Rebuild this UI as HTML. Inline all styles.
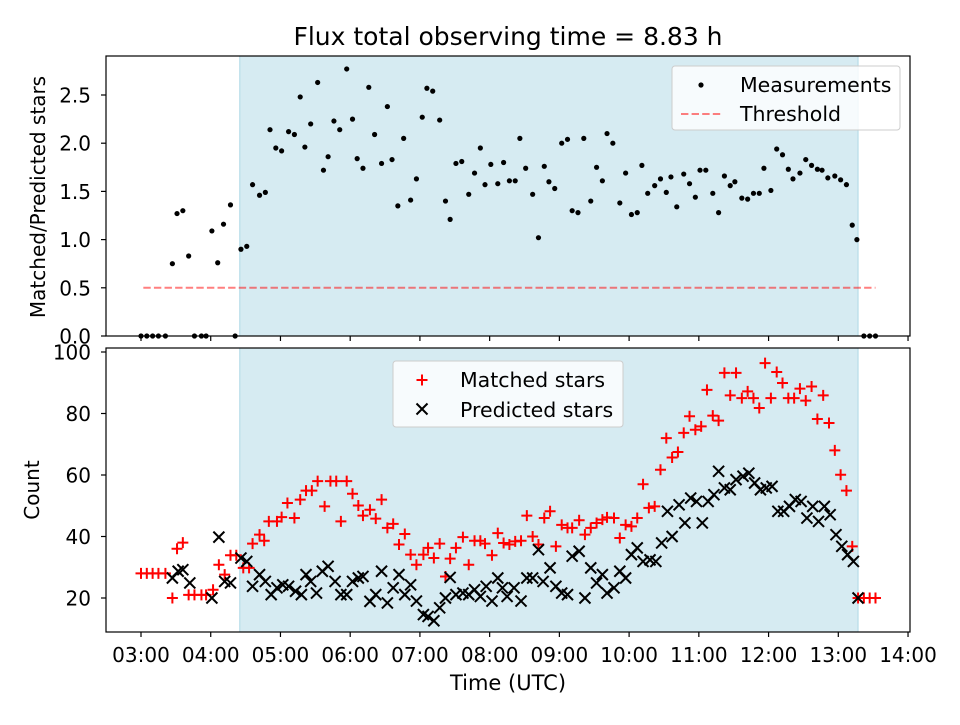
<!DOCTYPE html>
<html><head><meta charset="utf-8"><style>
body{margin:0;background:#fff;}
svg text{font-family:"DejaVu Sans","Liberation Sans",sans-serif;fill:#000;}
</style></head><body>
<svg id="chart" width="960" height="720" xmlns="http://www.w3.org/2000/svg"></svg>
<script>
const ratioTimes=[0,5,10,15,21,27,31,36,41,46,52,56,61,66,71,77,81,86,91,96,102,107,111,116,121,127,132,137,141,146,152,157,161,166,171,177,182,186,191,196,201,207,212,216,221,226,232,237,242,246,251,257,262,266,271,276,282,287,292,296,301,307,312,317,322,326,331,337,342,347,351,356,362,367,371,376,381,387,392,397,401,406,412,417,422,427,431,436,442,447,452,456,461,467,472,477,481,486,492,497,502,507,511,517,522,527,532,536,542,547,552,557,561,567,572,577,582,586,591,597,602,607,612,616,622,627,632];
const ratioValues=[0,0,0,0,0,0.75,1.27,1.30,0.83,0,0,0,1.09,0.76,1.16,1.36,0,0.90,0.93,1.57,1.46,1.49,2.14,1.95,1.92,2.12,2.09,2.48,1.96,2.20,2.63,1.72,1.86,2.23,2.14,2.77,2.25,1.84,1.74,2.58,2.09,1.79,2.38,1.83,1.35,2.05,1.41,1.63,2.27,2.57,2.54,2.24,1.40,1.21,1.79,1.81,1.47,1.69,1.95,1.57,1.78,1.58,1.80,1.61,1.61,2.05,1.74,1.47,1.02,1.76,1.60,1.53,2.00,2.04,1.30,1.28,2.05,1.40,1.75,1.61,2.10,2.00,1.38,1.69,1.26,1.28,1.77,1.48,1.56,1.63,1.49,1.65,1.34,1.68,1.58,1.44,1.72,1.72,1.48,1.28,1.66,1.56,1.60,1.43,1.42,1.48,1.48,1.74,1.51,1.94,1.88,1.73,1.63,1.69,1.83,1.77,1.73,1.72,1.64,1.66,1.62,1.57,1.15,1.00,0,0,0];
const matchedTimes=[0,5,10,15,21,27,31,36,41,46,52,56,62,67,72,77,82,88,93,96,102,106,110,117,121,126,132,137,142,147,152,158,163,168,172,177,182,187,191,197,202,207,212,217,222,227,232,237,243,247,252,257,262,266,271,277,282,287,292,296,302,307,312,317,322,327,332,337,342,347,352,357,362,367,371,377,382,387,392,397,401,407,412,417,422,427,432,437,442,447,452,457,462,467,472,477,482,487,492,497,502,507,512,517,522,527,532,537,542,547,552,557,562,567,572,577,582,587,592,597,602,607,612,617,622,627,632];
const matchedValues=[28,28,28,28,28,20,36,38,21,21,21,21,22.7,30.8,27.6,33.9,33.9,29.8,29.8,37.7,40.6,38.6,44.9,44.9,46.3,50.9,46,52,54.9,54.9,58,49.8,58,58,44.9,58,53.9,50.1,46.8,48.7,45.8,52,42.8,44.1,37.4,40.8,34.1,30.8,34.1,36.3,33,37.7,27,32.8,36.3,39.8,30.8,38.6,38.6,37.7,33.9,41.1,37.9,37.4,38.4,38.6,46.8,40,37.4,46,48.2,36.8,43.8,42.8,42.8,45.3,40.6,42.8,44.4,45.5,46.2,46,39.5,43.8,43.3,46,57,49.3,49.8,61.7,72,65.7,67.5,73.7,79.1,74.7,75.8,87.7,79.3,77.7,93.2,85.9,93.2,85,87.2,85,81.8,96.4,85,93.5,89.9,85,85,88.1,84.2,88.8,78.2,85.9,76.9,68,60.1,54.9,36.8,20,20,20,20];
const predictedTimes=[27,32,36,42,61,67,72,77,86,91,96,102,107,112,117,122,127,133,138,142,146,151,156,161,167,172,177,182,187,191,197,202,207,212,217,222,227,232,237,243,247,252,257,262,266,271,277,282,287,292,297,302,307,311,315,321,327,332,337,342,346,352,357,362,367,371,377,382,387,392,397,401,407,412,417,422,427,432,438,443,448,453,457,463,468,473,478,483,488,493,497,502,507,512,518,523,528,533,538,543,548,553,558,563,568,573,578,583,588,593,598,603,608,613,617];
const predictedValues=[26.5,28.7,29.2,24.9,20,39.8,25.4,24.9,33,31.9,23.8,27.6,25.4,21.1,23.3,24.3,23.8,22.2,21.1,27.6,25.4,21.6,28.7,30.3,25.4,21.1,21.1,25.4,26.5,27,18.9,21.1,28.7,18.4,23.3,27.6,21.1,24.3,19,14.6,14,12.6,16.8,20,26.7,21.1,21.6,21.1,22.7,20.5,23.8,19,26.5,23.3,20.5,23.3,19,26.5,26.5,35.7,25.4,29.8,23.8,21.6,21.1,33.6,35.2,20,29.8,24.9,27.6,21.6,23.3,28.7,26.5,34.1,36.3,31.9,32.4,31.9,37.9,48.2,40,50.3,44.4,52.5,51.4,44.4,51.4,53.6,61.2,55.8,55.2,58.5,59.6,60.6,57.4,55.2,55.8,56.3,48.2,48.2,49.8,52,51.4,46,49.8,44.9,49.8,47.1,40.6,36.8,34.1,31.9,20];
const xTickLabels=["03:00","04:00","05:00","06:00","07:00","08:00","09:00","10:00","11:00","12:00","13:00","14:00"];
const topYTicks=[0,0.5,1.0,1.5,2.0,2.5];
const bottomYTicks=[20,40,60,80,100];
const shadeSpan=[85,617];
const thresholdSpan=[2,632];
const thresholdValue=0.5;

const NS="http://www.w3.org/2000/svg";
const svg=document.getElementById('chart');
function xs(m){return 141+m/60*69.73;}
function yt(v){return 336-v*96.4;}
function yb(v){return 352+(100-v)*3.075;}
function mk(tag,attrs,parent){const e=document.createElementNS(NS,tag);for(const k in attrs)e.setAttribute(k,attrs[k]);(parent||svg).appendChild(e);return e;}
const L=106,R=910,T1=56,B1=336,T2=348,B2=632;

let s1=mk('rect',{x:xs(shadeSpan[0]),y:T1,width:xs(shadeSpan[1])-xs(shadeSpan[0]),height:B1-T1,fill:'#add8e6','fill-opacity':0.5,stroke:'#add8e6'});


let s2=mk('rect',{x:xs(shadeSpan[0]),y:T2,width:xs(shadeSpan[1])-xs(shadeSpan[0]),height:B2-T2,fill:'#add8e6','fill-opacity':0.5,stroke:'#add8e6'});



let th=mk('line',{x1:xs(thresholdSpan[0]),x2:xs(thresholdSpan[1]),y1:yt(thresholdValue),y2:yt(thresholdValue),stroke:'#ff0000','stroke-opacity':0.5,'stroke-width':2,'stroke-dasharray':'7.4,3.2'});



const gm=mk('g',{});


ratioTimes.forEach((t,i)=>{const c=mk('circle',{cx:xs(t),cy:yt(ratioValues[i]),r:2.6,fill:'#000'},gm);

});

const gr=mk('g',{stroke:'#ff0000','stroke-width':2});


matchedTimes.forEach((t,i)=>{const x=xs(t),y=yb(matchedValues[i]);const p=mk('path',{d:`M${x-5.5},${y}H${x+5.5}M${x},${y-5.5}V${y+5.5}`},gr);

});

const gk=mk('g',{stroke:'#000','stroke-width':2});


predictedTimes.forEach((t,i)=>{const x=xs(t),y=yb(predictedValues[i]);const p=mk('path',{d:`M${x-5.5},${y-5.5}L${x+5.5},${y+5.5}M${x-5.5},${y+5.5}L${x+5.5},${y-5.5}`},gk);

});

[[T1,B1,'top-axes-frame'],[T2,B2,'bottom-axes-frame']].forEach(f=>{const r=mk('rect',{x:L,y:f[0],width:R-L,height:f[1]-f[0],fill:'none',stroke:'#000','stroke-width':1.2});

});

xTickLabels.forEach((lab,i)=>{const x=xs(i*60);
mk('line',{x1:x,x2:x,y1:B1,y2:B1+5,stroke:'#000','stroke-width':1.2});
mk('line',{x1:x,x2:x,y1:B2,y2:B2+5,stroke:'#000','stroke-width':1.2});
const tx=mk('text',{x:x,y:B2+30,'font-size':20,'text-anchor':'middle'});tx.textContent=lab;

});
topYTicks.forEach(v=>{const y=yt(v);mk('line',{x1:L-5,x2:L,y1:y,y2:y,stroke:'#000','stroke-width':1.2});
const tx=mk('text',{x:L-15,y:y+7.5,'font-size':20,'text-anchor':'end'});tx.textContent=v.toFixed(1);

});
bottomYTicks.forEach(v=>{const y=yb(v);mk('line',{x1:L-5,x2:L,y1:y,y2:y,stroke:'#000','stroke-width':1.2});
const tx=mk('text',{x:L-15,y:y+7.5,'font-size':20,'text-anchor':'end'});tx.textContent=v;

});
</script>
<svg style="position:absolute;left:0;top:0" width="960" height="720" xmlns="http://www.w3.org/2000/svg">
<text x="508" y="45" font-size="25" text-anchor="middle">Flux total observing time = 8.83 h</text>
<text transform="translate(45,197) rotate(-90)" font-size="20" text-anchor="middle">Matched/Predicted stars</text>
<text transform="translate(39,490) rotate(-90)" font-size="20" text-anchor="middle">Count</text>
<text x="508" y="690" font-size="21" text-anchor="middle">Time (UTC)</text>
<g>
<rect x="672" y="66" width="228" height="64" rx="3" fill="#fff" fill-opacity="0.8" stroke="#ccc"/>
<circle cx="701" cy="85" r="2.6" fill="#000"/>
<text x="740" y="92" font-size="20.5">Measurements</text>
<line x1="681" x2="721" y1="114" y2="114" stroke="#ff0000" stroke-opacity="0.5" stroke-width="2" stroke-dasharray="7.4,3.2"/>
<text x="740" y="121" font-size="20.5">Threshold</text>
</g>
<g>
<rect x="393" y="361" width="230" height="66" rx="3" fill="#fff" fill-opacity="0.8" stroke="#ccc"/>
<path d="M416.5,380H427.5M422,374.5V385.5" stroke="#ff0000" stroke-width="2"/>
<text x="460" y="387" font-size="20.5">Matched stars</text>
<path d="M416.5,403.5L427.5,414.5M416.5,414.5L427.5,403.5" stroke="#000" stroke-width="2"/>
<text x="460" y="417" font-size="20.5">Predicted stars</text>
</g>
</svg>
</body></html>
